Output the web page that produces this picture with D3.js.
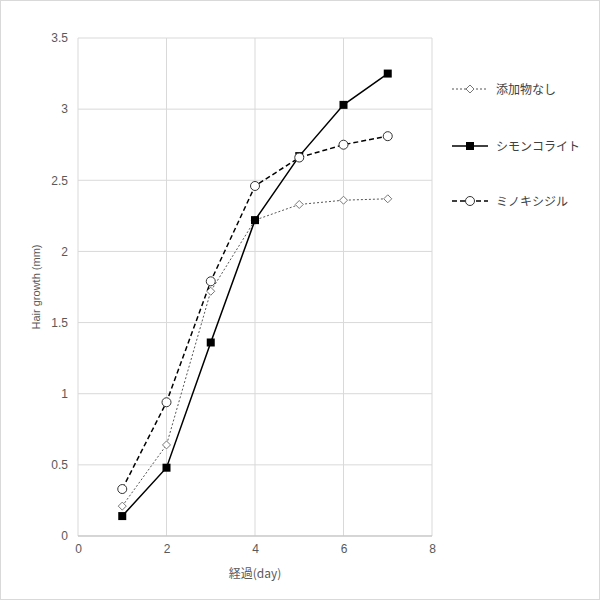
<!DOCTYPE html>
<html><head><meta charset="utf-8">
<script src="https://cdn.jsdelivr.net/npm/d3@7"></script>
<style>body{margin:0;background:#fff}</style>
</head><body>
<svg id="chart" width="600" height="600"></svg>
<script>
const days = [1, 2, 3, 4, 5, 6, 7];
const noAdditive = [0.21, 0.64, 1.72, 2.22, 2.33, 2.36, 2.37];
const simon = [0.14, 0.48, 1.36, 2.22, 2.67, 3.03, 3.25];
const minoxidil = [0.33, 0.94, 1.79, 2.46, 2.66, 2.75, 2.81];
const xTicks = [0, 2, 4, 6, 8];
const yTicks = [0, 0.5, 1, 1.5, 2, 2.5, 3, 3.5];
const seriesNames = ["添加物なし", "シモンコライト", "ミノキシジル"];

const svg = d3.select("#chart");
const font = "Liberation Sans, Arial, sans-serif";
svg.append("rect").attr("x", 0.5).attr("y", 0.5).attr("width", 599).attr("height", 599)
  .attr("fill", "#fff").attr("stroke", "#d9d9d9");

const x = d3.scaleLinear().domain([0, 8]).range([78, 432]);
const y = d3.scaleLinear().domain([0, 3.5]).range([536, 38]);

// grid
svg.append("g").selectAll("line").data(yTicks).join("line")
  .attr("x1", x(0)).attr("x2", x(8)).attr("y1", d => y(d)).attr("y2", d => y(d))
  .attr("stroke", "#d9d9d9");
svg.append("g").selectAll("line").data(xTicks).join("line")
  .attr("y1", y(0)).attr("y2", y(3.5)).attr("x1", d => x(d)).attr("x2", d => x(d))
  .attr("stroke", "#d9d9d9");

const xAxis = svg.append("g").attr("transform", `translate(0,${y(0)})`)
  .call(d3.axisBottom(x).tickValues(xTicks).tickSize(0).tickPadding(8));
const yAxis = svg.append("g").attr("transform", `translate(${x(0)},0)`)
  .call(d3.axisLeft(y).tickValues(yTicks).tickSize(0).tickPadding(10).tickFormat(d3.format("")));
[xAxis, yAxis].forEach(a => {
  a.select(".domain").remove();
  a.selectAll("text").attr("font-family", font).attr("font-size", 12).attr("fill", "#595959");
});
svg.append("line").attr("x1", x(0)).attr("x2", x(8)).attr("y1", y(0)).attr("y2", y(0)).attr("stroke", "#bfbfbf");

svg.append("text").attr("x", (x(0) + x(8)) / 2).attr("y", 578).attr("text-anchor", "middle")
  .attr("font-family", "Noto Sans CJK JP, sans-serif").attr("font-size", 12).attr("fill", "#595959").text("経過(day)");
svg.append("text").attr("transform", `translate(40,${(y(0) + y(3.5)) / 2}) rotate(-90)`)
  .attr("text-anchor", "middle").attr("font-family", font).attr("font-size", 11).attr("fill", "#595959")
  .text("Hair growth (mm)");

const series = [
  {vals: noAdditive, dash: "2,2", width: 1, marker: "diamond"},
  {vals: simon, dash: null, width: 1.5, marker: "square"},
  {vals: minoxidil, dash: "5,3", width: 1.5, marker: "circle"}
];
const line = d3.line().x((d, i) => x(days[i])).y(d => y(d));

function marker(g, type, cx, cy) {
  if (type === "diamond") {
    g.append("path").attr("d", `M${cx},${cy - 4}L${cx + 4},${cy}L${cx},${cy + 4}L${cx - 4},${cy}Z`)
      .attr("fill", "#fff").attr("stroke", "#777").attr("stroke-width", 1);
  } else if (type === "square") {
    g.append("rect").attr("x", cx - 4).attr("y", cy - 4).attr("width", 8).attr("height", 8).attr("fill", "#000");
  } else {
    g.append("circle").attr("cx", cx).attr("cy", cy).attr("r", 4.5)
      .attr("fill", "#fff").attr("stroke", "#333").attr("stroke-width", 1);
  }
}

series.forEach(s => {
  svg.append("path").datum(s.vals).attr("d", line).attr("fill", "none")
    .attr("stroke", s.marker === "diamond" ? "#555" : "#000").attr("stroke-width", s.width)
    .attr("stroke-dasharray", s.dash);
});
series.forEach(s => {
  const g = svg.append("g");
  s.vals.forEach((v, i) => marker(g, s.marker, x(days[i]), y(v)));
});

// legend
const legY = [89, 146, 201];
series.forEach((s, i) => {
  const g = svg.append("g");
  g.append("line").attr("x1", 452).attr("x2", 488).attr("y1", legY[i]).attr("y2", legY[i])
    .attr("stroke", s.marker === "diamond" ? "#555" : "#000").attr("stroke-width", s.width)
    .attr("stroke-dasharray", s.dash);
  marker(g, s.marker, 470, legY[i]);
  g.append("text").attr("x", 496).attr("y", legY[i] + 4.5).attr("font-family", "Noto Sans CJK JP, sans-serif")
    .attr("font-size", 12).attr("fill", "#404040").text(seriesNames[i]);
});
</script>
</body></html>
